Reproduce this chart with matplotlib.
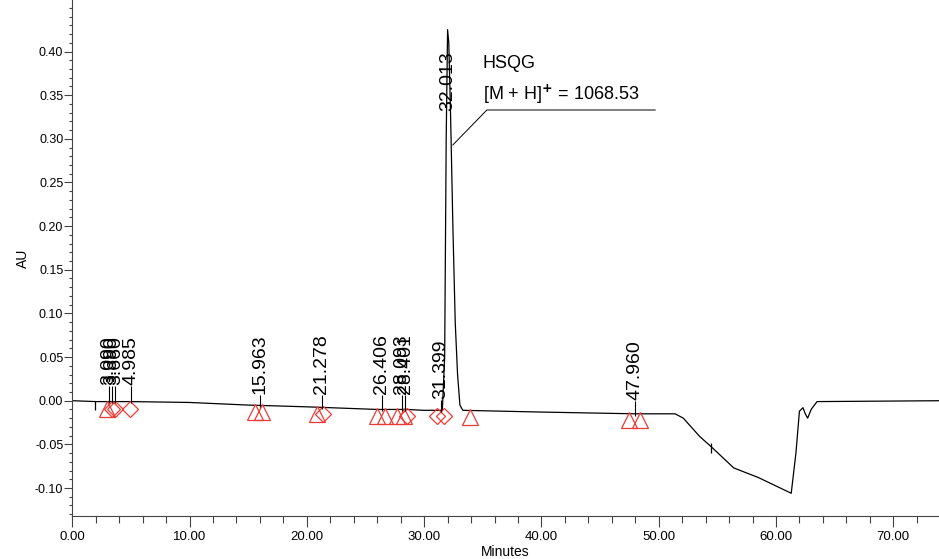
import numpy as np
import matplotlib
matplotlib.use("Agg")
from matplotlib import pyplot as plt
from matplotlib.ticker import MultipleLocator, FormatStrFormatter

plt.rcParams['font.family'] = ['Liberation Sans', 'DejaVu Sans']

# chromatogram trace (minutes, AU)
tiempo = [0.0, 2.0, 5.0, 10.0, 15.0, 20.0, 26.0, 28.5, 30.0, 31.55,
          31.75, 31.88, 32.0, 32.1, 32.25, 32.45, 32.65, 32.85, 33.05, 33.3,
          40.0, 48.0, 51.4, 52.1, 53.5, 54.5, 56.4, 58.5, 61.3, 61.7, 62.0,
          62.3, 62.5, 62.7, 63.0, 63.5, 74.0]
absorbancia = [0.000, -0.001, -0.001, -0.002, -0.005, -0.007, -0.010, -0.010, -0.011, -0.011,
               0.050, 0.300, 0.425, 0.410, 0.330, 0.200, 0.090, 0.030, -0.005, -0.011,
               -0.013, -0.015, -0.015, -0.020, -0.041, -0.053, -0.077, -0.088, -0.106, -0.060, -0.012,
               -0.008, -0.015, -0.020, -0.010, -0.001, 0.000]

# peak labels
picos = [3.090, 3.390, 3.660, 4.985, 15.963, 21.278, 26.406, 28.093, 28.401, 31.399, 32.013, 47.960]
etiquetas = ["3.090", "3.390", "3.660", "4.985", "15.963", "21.278", "26.406", "28.093",
             "28.401", "31.399", "32.013", "47.960"]
altura_etiqueta = [0.018, 0.018, 0.018, 0.018, 0.008, 0.008, 0.008, 0.008, 0.008, 0.002, 0.400, 0.001]

# integration markers
triangulos_t = [3.0, 15.6, 16.2, 20.9, 26.0, 26.7, 27.7, 28.3, 33.9, 47.5, 48.4]
triangulos_y = [-0.010, -0.013, -0.013, -0.015, -0.017, -0.017, -0.017, -0.017, -0.019, -0.022, -0.022]
diamantes_t = [3.4, 3.6, 4.9, 21.4, 28.5, 31.1, 31.7]
diamantes_y = [-0.009, -0.009, -0.009, -0.015, -0.018, -0.018, -0.018]

# small event ticks on the trace
eventos_t = [1.9, 54.5]
eventos_y = [0.0, -0.049]

fig, ax = plt.subplots(figsize=(9.39, 5.59), dpi=100)
fig.subplots_adjust(left=0.077, right=1.0, bottom=0.077, top=1.0)

ax.plot(tiempo, absorbancia, color="black", lw=0.9)
ax.plot(triangulos_t, triangulos_y, "^", ms=11, mfc="none", mec="#ec3b36", mew=0.9)
ax.plot(diamantes_t, diamantes_y, "D", ms=8, mfc="none", mec="#ec3b36", mew=0.9)

for t, y in zip(eventos_t, eventos_y):
    ax.vlines(t, y - 0.011, y, color="black", lw=0.9)

for t, txt, h in zip(picos, etiquetas, altura_etiqueta):
    base = np.interp(t, tiempo, absorbancia)
    if txt == "32.013":
        ax.text(t, h, txt, rotation=90, ha="center", va="top", fontsize=14)
        continue
    ax.vlines(t, base - 0.002, h - 0.001, color="black", lw=0.8)
    ax.text(t, h, txt, rotation=90, ha="center", va="bottom", fontsize=14)

# compound annotation
ax.plot([32.45, 35.35, 49.7], [0.293, 0.333, 0.333], color="black", lw=0.7)
ax.text(35.0, 0.381, "HSQG", fontsize=13)
ax.text(35.0, 0.345, r"[M + H]$^{\mathbf{+}}$ = 1068.53", fontsize=13)

ax.set_xlim(0, 73.9)
ax.set_ylim(-0.132, 0.459)
ax.set_yticks(np.arange(-0.10, 0.401, 0.05))
ax.xaxis.set_major_locator(MultipleLocator(10))
ax.xaxis.set_minor_locator(MultipleLocator(2))
ax.yaxis.set_minor_locator(MultipleLocator(0.01))
ax.xaxis.set_major_formatter(FormatStrFormatter("%.2f"))
ax.yaxis.set_major_formatter(FormatStrFormatter("%.2f"))
ax.tick_params(axis="x", which="major", length=8, width=0.8, pad=3, labelsize=9.5, color="#444444")
ax.tick_params(axis="x", which="minor", length=5, width=0.8, color="#444444")
ax.tick_params(axis="y", which="major", length=6, width=0.8, pad=0.5, labelsize=9, color="#444444")
ax.tick_params(axis="y", which="minor", length=2.5, width=0.8, color="#444444")

for lado in ["top", "right"]:
    ax.spines[lado].set_visible(False)
for lado in ["left", "bottom"]:
    ax.spines[lado].set_color("#444444")

ax.set_xlabel("Minutes", fontsize=10, labelpad=1)
ax.set_ylabel("AU", fontsize=10)
ax.yaxis.set_label_coords(-0.049, 0.5)

plt.savefig("out.png", dpi=100)
plt.close()
